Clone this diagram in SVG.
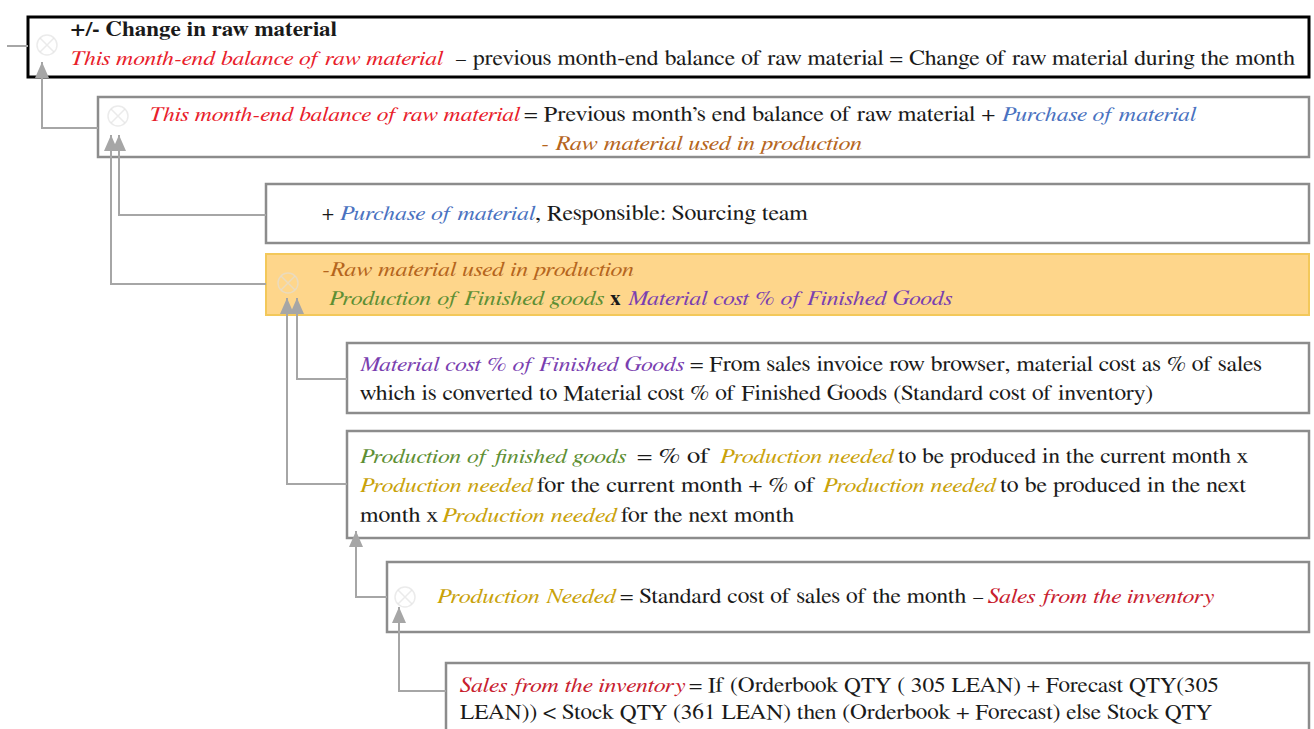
<svg xmlns="http://www.w3.org/2000/svg" width="1314" height="729" viewBox="0 0 1314 729" font-family="FreeSerif, 'Liberation Serif', serif">
<style>
text{font-family:FreeSerif,'Liberation Serif',serif;font-size:21px;fill:#1a1a1a}
.i{font-style:italic}
.b{font-weight:bold}
.red{fill:#E8202A}
.dred{fill:#C8202E}
.blue{fill:#4A72C0}
.brown{fill:#B5651D}
.green{fill:#5E8F34}
.purple{fill:#7A3FB0}
.gold{fill:#C9A20A}
.box{fill:#fff;stroke:#8C8C8C;stroke-width:2.5}
.box1{fill:#fff;stroke:#000;stroke-width:3}
.hl{fill:#FED68B;stroke:#F3C85A;stroke-width:2}
.conn{fill:none;stroke:#A6A6A6;stroke-width:2}
.ic{fill:none;stroke:#DDDDDD;stroke-width:1.5;opacity:.6}
</style>
<defs>
<marker id="arr" viewBox="0 0 16 14" refX="16" refY="7" markerWidth="16" markerHeight="14" markerUnits="userSpaceOnUse" orient="auto">
<path d="M0,0 L16,7 L0,14 z" fill="#A6A6A6"/>
</marker>
<g id="xc"><circle r="10" class="ic"/><path d="M-7,-7 L7,7 M7,-7 L-7,7" class="ic"/></g>
</defs>

<g id="n1">
<rect class="box1" x="28" y="17" width="1281" height="60"/>
<use href="#xc" x="47" y="45"/>
<text class="b" x="70" y="36" textLength="267" lengthAdjust="spacingAndGlyphs">+/- Change in raw material</text>
<text class="i red" x="70" y="65" textLength="373" lengthAdjust="spacingAndGlyphs">This month-end balance of raw material</text>
<text x="455" y="65" textLength="840" lengthAdjust="spacingAndGlyphs">– previous month-end balance of raw material  = Change of raw material during the month</text>
</g>

<g id="n2">
<rect class="box" x="98" y="97" width="1211" height="60"/>
<use href="#xc" x="118" y="116"/>
<text class="i red" x="149" y="121" textLength="371" lengthAdjust="spacingAndGlyphs">This month-end balance of raw material</text>
<text x="524" y="121" textLength="471" lengthAdjust="spacingAndGlyphs">= Previous month’s end balance of raw material  +</text>
<text class="i blue" x="1002" y="121" textLength="194" lengthAdjust="spacingAndGlyphs">Purchase of material</text>
<text class="i brown" x="541" y="150" textLength="321" lengthAdjust="spacingAndGlyphs">- Raw material used in production</text>
</g>

<g id="n3">
<rect class="box" x="266" y="184" width="1043" height="59"/>
<text x="322" y="220">+</text>
<text class="i blue" x="340" y="220" textLength="195" lengthAdjust="spacingAndGlyphs">Purchase of material</text>
<text x="535" y="220" textLength="273" lengthAdjust="spacingAndGlyphs">, Responsible: Sourcing team</text>
</g>

<g id="n4">
<rect class="hl" x="266" y="254" width="1043" height="61"/>
<use href="#xc" x="288" y="283"/>
<text class="i brown" x="322" y="276" textLength="312" lengthAdjust="spacingAndGlyphs">-Raw material used in production</text>
<text class="i green" x="329" y="305" textLength="275" lengthAdjust="spacingAndGlyphs">Production of Finished goods</text>
<text class="b" x="610" y="305">x</text>
<text class="i purple" x="628" y="305" textLength="324" lengthAdjust="spacingAndGlyphs">Material cost % of Finished Goods</text>
</g>

<g id="n5">
<rect class="box" x="347" y="343" width="962" height="70"/>
<text class="i purple" x="360" y="371" textLength="324" lengthAdjust="spacingAndGlyphs">Material cost % of Finished Goods</text>
<text x="690" y="371" textLength="572" lengthAdjust="spacingAndGlyphs">= From sales invoice row browser, material cost as % of sales</text>
<text x="360" y="400" textLength="793" lengthAdjust="spacingAndGlyphs">which is converted to Material cost % of Finished Goods (Standard cost of inventory)</text>
</g>

<g id="n6">
<rect class="box" x="347" y="431" width="962" height="107"/>
<text class="i green" x="360" y="463" textLength="266" lengthAdjust="spacingAndGlyphs">Production of finished goods</text>
<text x="637" y="463" textLength="73" lengthAdjust="spacingAndGlyphs">=  % of</text>
<text class="i gold" x="720" y="463" textLength="174" lengthAdjust="spacingAndGlyphs">Production needed</text>
<text x="898" y="463" textLength="350" lengthAdjust="spacingAndGlyphs">to be produced in the current month x</text>
<text class="i gold" x="360" y="492" textLength="173" lengthAdjust="spacingAndGlyphs">Production needed</text>
<text x="537" y="492" textLength="278" lengthAdjust="spacingAndGlyphs">for the current month  + % of</text>
<text class="i gold" x="823" y="492" textLength="173" lengthAdjust="spacingAndGlyphs">Production needed</text>
<text x="1000" y="492" textLength="246" lengthAdjust="spacingAndGlyphs">to be produced in the next</text>
<text x="360" y="522" textLength="78" lengthAdjust="spacingAndGlyphs">month x</text>
<text class="i gold" x="442" y="522" textLength="175" lengthAdjust="spacingAndGlyphs">Production needed</text>
<text x="621" y="522" textLength="173" lengthAdjust="spacingAndGlyphs">for the next month</text>
</g>

<g id="n7">
<rect class="box" x="387" y="562" width="922" height="70"/>
<use href="#xc" x="405" y="597"/>
<text class="i gold" x="437" y="603" textLength="179" lengthAdjust="spacingAndGlyphs">Production Needed</text>
<text x="620" y="603" textLength="364" lengthAdjust="spacingAndGlyphs">= Standard cost of sales of the month –</text>
<text class="i dred" x="988" y="603" textLength="226" lengthAdjust="spacingAndGlyphs">Sales from the inventory</text>
</g>

<g id="n8">
<rect class="box" x="446" y="663" width="863" height="80"/>
<text class="i dred" x="460" y="692" textLength="225" lengthAdjust="spacingAndGlyphs">Sales from the inventory</text>
<text x="689" y="692" textLength="530" lengthAdjust="spacingAndGlyphs">= If (Orderbook QTY ( 305 LEAN) + Forecast QTY(305</text>
<text x="460" y="719" textLength="752" lengthAdjust="spacingAndGlyphs">LEAN)) &lt; Stock QTY (361 LEAN) then (Orderbook + Forecast) else Stock QTY</text>
</g>

<g id="connectors">
<line class="conn" x1="7" y1="46" x2="28" y2="46"/>
<path class="conn" d="M98,128 H42 V62" marker-end="url(#arr)"/>
<path class="conn" d="M266,215 H119 V135" marker-end="url(#arr)"/>
<path class="conn" d="M266,284 H111 V135" marker-end="url(#arr)"/>
<path class="conn" d="M347,379 H297 V298" marker-end="url(#arr)"/>
<path class="conn" d="M347,484 H287 V298" marker-end="url(#arr)"/>
<path class="conn" d="M387,597 H356 V531" marker-end="url(#arr)"/>
<path class="conn" d="M446,691 H399 V607" marker-end="url(#arr)"/>
</g>
</svg>
